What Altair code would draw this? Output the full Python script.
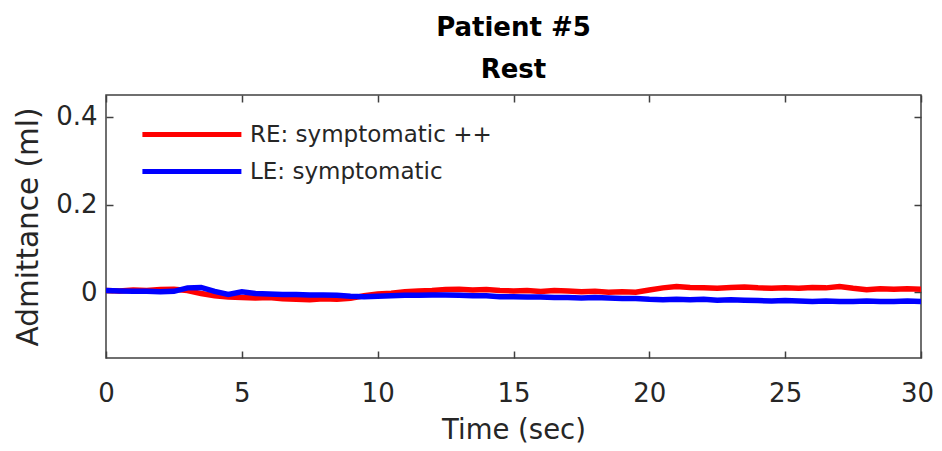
import altair as alt
import pandas as pd

times = [0.0, 0.5, 1.0, 1.5, 2.0, 2.5, 3.0, 3.5, 4.0, 4.5, 5.0, 5.5, 6.0, 6.5, 7.0, 7.5, 8.0, 8.5, 9.0, 9.5,
         10.0, 10.5, 11.0, 11.5, 12.0, 12.5, 13.0, 13.5, 14.0, 14.5, 15.0, 15.5, 16.0, 16.5, 17.0, 17.5, 18.0, 18.5, 19.0, 19.5,
         20.0, 20.5, 21.0, 21.5, 22.0, 22.5, 23.0, 23.5, 24.0, 24.5, 25.0, 25.5, 26.0, 26.5, 27.0, 27.5, 28.0, 28.5, 29.0, 29.5, 30.0]

re_values = [0.004, 0.003, 0.005, 0.004, 0.006, 0.007, 0.004, -0.003, -0.008, -0.011, -0.012, -0.013, -0.012, -0.015, -0.016, -0.017, -0.015, -0.016, -0.014, -0.008,
             -0.004, -0.002, 0.001, 0.003, 0.004, 0.006, 0.007, 0.005, 0.006, 0.004, 0.003, 0.004, 0.002, 0.004, 0.003, 0.001, 0.002, 0.000, 0.001, 0.000,
             0.005, 0.010, 0.013, 0.011, 0.010, 0.009, 0.011, 0.012, 0.010, 0.009, 0.010, 0.009, 0.011, 0.010, 0.013, 0.009, 0.006, 0.008, 0.007, 0.008, 0.007]

le_values = [0.004, 0.003, 0.002, 0.002, 0.001, 0.002, 0.010, 0.011, 0.002, -0.005, 0.001, -0.003, -0.004, -0.005, -0.005, -0.006, -0.006, -0.007, -0.009, -0.010,
             -0.009, -0.008, -0.007, -0.007, -0.006, -0.006, -0.007, -0.008, -0.008, -0.010, -0.010, -0.011, -0.011, -0.012, -0.012, -0.013, -0.012, -0.013, -0.014, -0.014,
             -0.016, -0.017, -0.016, -0.017, -0.016, -0.018, -0.017, -0.018, -0.019, -0.020, -0.019, -0.020, -0.021, -0.020, -0.021, -0.021, -0.020, -0.021, -0.021, -0.020, -0.021]

series_names = ["RE: symptomatic ++", "LE: symptomatic"]
series_colors = ["#FF0000", "#0000FF"]
x_ticks = [0, 5, 10, 15, 20, 25, 30]
y_ticks = [0, 0.2, 0.4]

rows = []
for t, v in zip(times, re_values):
    rows.append({"t": t, "v": v, "series": series_names[0], "k": 0})
for t, v in zip(times, le_values):
    rows.append({"t": t, "v": v, "series": series_names[1], "k": 1})
df = pd.DataFrame(rows)

FONT = "DejaVu Sans"
TXT = "#262626"

xscale = alt.Scale(domain=[0, 30], nice=False, zero=False)
yscale = alt.Scale(domain=[-0.15, 0.45], nice=False, zero=False)

main = alt.Chart(df).mark_line(strokeWidth=5.5, clip=True).encode(
    x=alt.X("t:Q", scale=xscale,
            axis=alt.Axis(orient="bottom", title="Time (sec)", values=x_ticks, offset=-7, tickSize=7,
                          labelPadding=22, titlePadding=10, domain=False, grid=False,
                          labelFlush=False, titleFontSize=27.5,
                          labelOffset=alt.condition("datum.value == 30", alt.value(-4), alt.value(0)))),
    y=alt.Y("v:Q", scale=yscale,
            axis=alt.Axis(orient="left", title="Admittance (ml)", values=y_ticks, format="~g", offset=-7,
                          tickSize=7, labelPadding=9, titlePadding=12, domain=False, grid=False,
                          labelFlush=False, titleFontSize=29.5)),
    color=alt.Color("series:N", scale=alt.Scale(domain=series_names, range=series_colors),
                    legend=alt.Legend(title=None, orient="none", legendX=113, legendY=27,
                                      symbolType="M-9,0L1,0", symbolSize=392, symbolStrokeWidth=5,
                                      labelFontSize=23, labelFont=FONT, labelColor=TXT, labelOffset=6,
                                      labelLimit=0, rowPadding=12, padding=0)),
    detail="k:N",
)

ticks = alt.Chart(df).mark_point(opacity=0).encode(
    x=alt.X("t:Q", scale=xscale,
            axis=alt.Axis(orient="top", title=None, values=x_ticks, offset=-7, tickSize=7,
                          labels=False, domain=False, grid=False)),
    y=alt.Y("v:Q", scale=yscale,
            axis=alt.Axis(orient="right", title=None, values=y_ticks, offset=-7, tickSize=7,
                          labels=False, domain=False, grid=False)),
)

chart = alt.layer(main, ticks).resolve_axis(x="independent", y="independent").properties(
    width=815,
    height=263,
    padding={"left": 98, "top": 87, "right": 13, "bottom": 85},
    autosize=alt.AutoSizeParams(type="none"),
    title=alt.TitleParams(["Patient #5", "Rest"], font=FONT, fontSize=26, fontWeight="bold",
                          color="#000000", lineHeight=42, anchor="middle", offset=11),
).configure_view(
    stroke="#404040", strokeWidth=1.5
).configure_axis(
    labelFont=FONT, labelFontSize=26, labelColor=TXT,
    titleFont=FONT, titleFontSize=27, titleColor=TXT, titleFontWeight="normal",
    tickColor="#404040", tickWidth=1.5,
)

chart.save("out.html", embed_options={"renderer": "svg", "actions": False})
